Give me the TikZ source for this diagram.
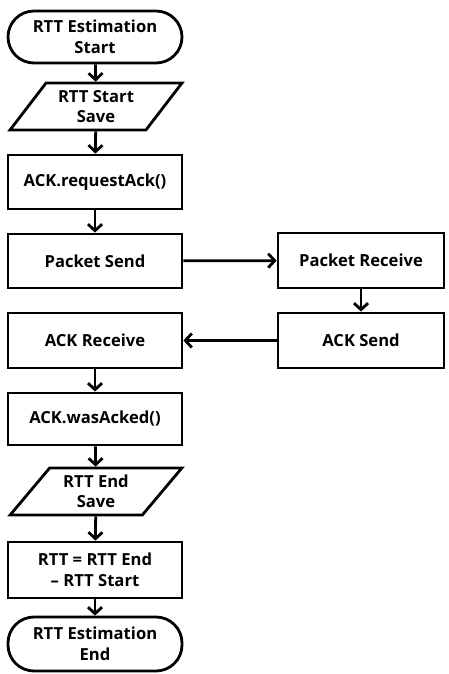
\documentclass[tikz,border=0pt]{standalone}
\usepackage{fontspec}
\setmainfont{Open Sans}
\usetikzlibrary{arrows.meta,shapes.geometric}

\tikzset{
  base/.style={draw=black, line width=2.8pt, fill=white, align=center,
    font=\fontsize{16.6}{20.5}\selectfont\bfseries, inner sep=0pt},
  procbox/.style={base, rectangle, minimum width=174pt},
  rprocbox/.style={base, rectangle, minimum width=166pt, minimum height=55pt},
  termbox/.style={base, rectangle, rounded corners=26pt, minimum width=174pt},
  iobox/.style={base, trapezium, trapezium left angle=50, trapezium right angle=130,
    trapezium stretches=true, minimum width=172pt, minimum height=47pt},
  flow/.style={line width=2.8pt, -{Straight Barb[length=6.5pt,width=14pt,line width=2.8pt]}},
}

\begin{document}
\begin{tikzpicture}[x=1pt, y=-1pt]
  \useasboundingbox (0,0) rectangle (448,674);

  % main column
  \node[termbox, minimum height=52pt] (start) at (95,37) {RTT Estimation\\Start};
  \node[iobox] (ssave) at (96,106.5) {RTT Start\\Save};
  \node[procbox, minimum height=54pt] (req) at (95,182) {ACK.requestAck()};
  \node[procbox, minimum height=54pt] (psend) at (95,261) {Packet Send};
  \node[procbox, minimum height=55pt] (arecv) at (95,340.5) {ACK Receive};
  \node[procbox, minimum height=52pt] (acked) at (95,419) {ACK.wasAcked()};
  \node[iobox] (esave) at (96,491.5) {RTT End\\Save};
  \node[procbox, minimum height=56pt] (calc) at (95,570) {RTT = RTT End\\{--} RTT Start};
  \node[termbox, minimum height=54pt] (end) at (95,644) {RTT Estimation\\End};

  % receiver column
  \node[rprocbox] (precv) at (361,260.5) {Packet Receive};
  \node[rprocbox] (asend) at (361,340.5) {ACK Send};

  % connectors
  \draw[flow] (start) -- (ssave);
  \draw[flow] (ssave) -- (req);
  \draw[flow] (req) -- (psend);
  \draw[flow] (psend) -- (precv);
  \draw[flow] (precv) -- (asend);
  \draw[flow] (asend) -- (arecv);
  \draw[flow] (arecv) -- (acked);
  \draw[flow] (acked) -- (esave);
  \draw[flow] (esave) -- (calc);
  \draw[flow] (calc) -- (end);
\end{tikzpicture}
\end{document}
